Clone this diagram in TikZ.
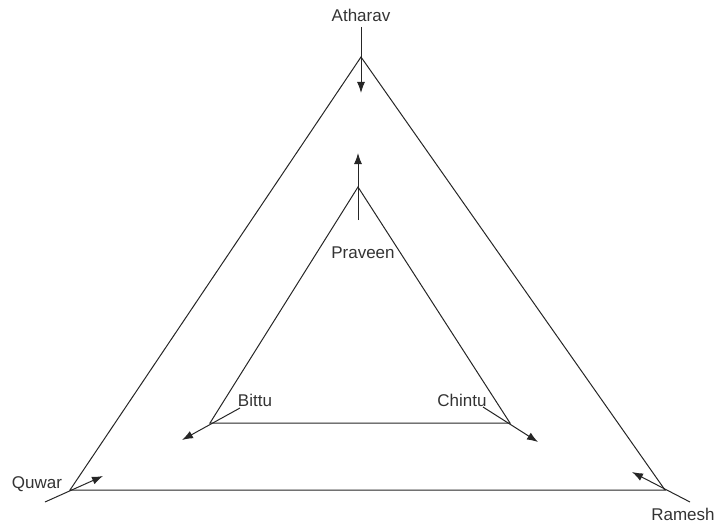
\documentclass[tikz,border=0pt]{standalone}
\usepackage{fontspec}
\setmainfont{Liberation Sans}
\usetikzlibrary{arrows.meta}
\usetikzlibrary{positioning}

\begin{document}
\begin{tikzpicture}[x=1pt,y=-1pt,>={Latex[length=11pt,width=8pt]}]

    % Define styles
    \tikzstyle{person} = [inner sep=0pt, text=black!80, font=\fontsize{17}{17}\selectfont]
    \tikzstyle{edge} = [draw=black!85, line width=1pt]

    \useasboundingbox (0,0) rectangle (717,524);

    % Outer triangle corners
    \coordinate (top) at (361,57);
    \coordinate (left) at (70,490);
    \coordinate (right) at (665,490);

    % Inner triangle corners
    \coordinate (itop) at (358,187);
    \coordinate (ileft) at (210,423);
    \coordinate (iright) at (510,423);

    % Names
    \node[person] (atharav) at (361,15) {Atharav};
    \node[person] (praveen) at (363,253) {Praveen};
    \node[person] (bittu) at (255,400) {Bittu};
    \node[person] (chintu) at (462,400) {Chintu};
    \node[person] (quwar) at (37,484) {Quwar};
    \node[person] (ramesh) at (683,514) {Ramesh};

    % Arrow ends
    \coordinate (atharavS) at (361,27);
    \coordinate (atharavE) at (361,93);
    \coordinate (praveenS) at (358,220);
    \coordinate (praveenE) at (358,153);
    \coordinate (bittuS) at (240,408);
    \coordinate (bittuE) at (182,440);
    \coordinate (chintuS) at (483,407);
    \coordinate (chintuE) at (538,442);
    \coordinate (quwarS) at (45,502);
    \coordinate (quwarE) at (103,476);
    \coordinate (rameshS) at (690,502);
    \coordinate (rameshE) at (632,472);

    % Triangles
    \draw[edge] (top) -- (right) -- (left) -- cycle;
    \draw[edge] (itop) -- (iright) -- (ileft) -- cycle;

    % Arrows
    \draw[edge,->] (atharavS) -- (atharavE);
    \draw[edge,->] (praveenS) -- (praveenE);
    \draw[edge,->] (bittuS) -- (bittuE);
    \draw[edge,->] (chintuS) -- (chintuE);
    \draw[edge,->] (quwarS) -- (quwarE);
    \draw[edge,->] (rameshS) -- (rameshE);

\end{tikzpicture}
\end{document}
